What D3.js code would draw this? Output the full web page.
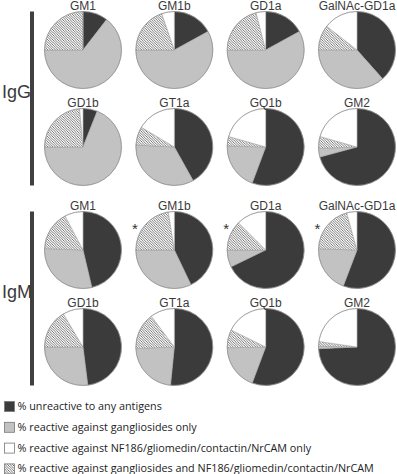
<!DOCTYPE html>
<html>
<head>
<meta charset="utf-8">
<script src="https://cdn.jsdelivr.net/npm/d3@7"></script>
<style>
  html, body { margin: 0; padding: 0; background: #fff; }
  svg { display: block; }
</style>
</head>
<body>
<div id="chart"></div>
<script>
// ganglioside antigens, read row by row (4 per row)
const antigens = ["GM1", "GM1b", "GD1a", "GalNAc-GD1a", "GD1b", "GT1a", "GQ1b", "GM2"]
const isotypes = ["IgG", "IgM"]
const categories = [
  "% unreactive to any antigens",
  "% reactive against gangliosides only",
  "% reactive against NF186/gliomedin/contactin/NrCAM only",
  "% reactive against gangliosides and NF186/gliomedin/contactin/NrCAM"
]

// percentages estimated from the pies
const iggUnreactive = [10.5, 17, 17, 38.4, 6, 41.9, 55.7, 70.8]
const iggGangliosideOnly = [64.5, 58, 58, 36.6, 69, 33.9, 19.7, 3.6]
const iggNfOnly = [0, 5.3, 4, 14.4, 1.4, 16.4, 20.6, 20.6]
const iggBoth = [25, 19.7, 21, 10.5, 23.6, 7.8, 4, 5]

const igmUnreactive = [46.3, 42.9, 67.8, 55.8, 48, 51.6, 55.7, 74.3]
const igmGangliosideOnly = [29.3, 32.1, 7.2, 19.7, 27, 22.8, 19, 1]
const igmNfOnly = [7.7, 2.5, 12.5, 4.3, 8.5, 10.2, 17.7, 22.7]
const igmBoth = [16.7, 22.5, 12.5, 20.2, 16.5, 15.4, 7.6, 2]

// antigens marked with an asterisk
const igmMarked = ["GM1b", "GD1a", "GalNAc-GD1a"]

const width = 397
const height = 474
const r = 38.5

const svg = d3.select("#chart")
  .append("svg")
  .attr("width", width)
  .attr("height", height)

const defs = svg.append("defs")
defs.append("pattern")
  .attr("id", "hatch")
  .attr("patternUnits", "userSpaceOnUse")
  .attr("width", 2.5)
  .attr("height", 2.5)
  .call(p => {
    p.append("rect").attr("width", 2.5).attr("height", 2.5).attr("fill", "#fff")
    p.append("path")
      .attr("d", "M-1,-1L3.5,3.5M-1,1.5L1,3.5M1.5,-1L3.5,1")
      .attr("stroke", "#4a4a4a")
      .attr("stroke-width", 0.75)
  })

// slice order clockwise from 12 o'clock
const sliceKeys = ["unreactive", "gangliosideOnly", "both", "nfOnly"]
const color = d3.scaleOrdinal()
  .domain(sliceKeys)
  .range(["#3b3b3b", "#c2c2c2", "url(#hatch)", "#ffffff"])

const x = d3.scalePoint()
  .domain([0, 1, 2, 3])
  .range([83, 357])

const panelTop = d3.scaleOrdinal().domain(isotypes).range([50, 250])
const rowStep = 97

const pie = d3.pie().sort(null).value(d => d.value)
const arc = d3.arc().innerRadius(0).outerRadius(r)

const series = {
  IgG: [iggUnreactive, iggGangliosideOnly, iggBoth, iggNfOnly],
  IgM: [igmUnreactive, igmGangliosideOnly, igmBoth, igmNfOnly]
}

isotypes.forEach(iso => {
  const top = panelTop(iso)

  antigens.forEach((name, i) => {
    const cx = x(i % 4)
    const cy = top + Math.floor(i / 4) * rowStep
    const slices = sliceKeys.map((key, k) => ({ key, value: series[iso][k][i] }))

    const g = svg.append("g").attr("transform", `translate(${cx},${cy})`)

    g.selectAll("path")
      .data(pie(slices))
      .join("path")
      .attr("d", arc)
      .attr("fill", d => color(d.data.key))
      .attr("stroke", "#9a9a9a")
      .attr("stroke-width", 0.5)

    g.append("circle")
      .attr("r", r)
      .attr("fill", "none")
      .attr("stroke", "#8a8a8a")
      .attr("stroke-width", 0.6)

    g.append("text")
      .attr("y", -r - 1.5)
      .attr("text-anchor", "middle")
      .attr("font-family", "'Liberation Sans', Arial, sans-serif")
      .attr("font-size", 12)
      .attr("fill", "#3a3a3a")
      .text(name)

    if (iso === "IgM" && igmMarked.includes(name)) {
      g.append("text")
        .attr("x", -r - 1)
        .attr("y", -r * 0.42)
        .attr("text-anchor", "middle")
        .attr("font-family", "'Liberation Sans', Arial, sans-serif")
        .attr("font-size", 15)
        .attr("fill", "#333")
        .text("*")
    }
  })

  // side bar and isotype label
  svg.append("rect")
    .attr("x", 30)
    .attr("y", top - r)
    .attr("width", 4)
    .attr("height", rowStep + 2 * r)
    .attr("fill", "#404040")

  svg.append("text")
    .attr("x", 2)
    .attr("y", top + rowStep / 2 - 1)
    .attr("font-family", "'Liberation Sans', Arial, sans-serif")
    .attr("font-size", 18)
    .attr("fill", "#3a3a3a")
    .text(iso)
})

// Legend
const legendKeys = ["unreactive", "gangliosideOnly", "nfOnly", "both"]
const legend = svg.append("g").attr("transform", "translate(4,401)")

legendKeys.forEach((key, i) => {
  const row = legend.append("g").attr("transform", `translate(0,${i * 20.8})`)
  row.append("rect")
    .attr("x", 0.5)
    .attr("y", 0.5)
    .attr("width", 10)
    .attr("height", 10)
    .attr("fill", color(key))
    .attr("stroke", "#777")
    .attr("stroke-width", 0.8)
  row.append("text")
    .attr("x", 13.5)
    .attr("y", 9)
    .attr("font-family", "'Open Sans', sans-serif")
    .attr("font-size", 10.8)
    .attr("fill", "#222")
    .text(categories[i])
})
</script>
</body>
</html>
